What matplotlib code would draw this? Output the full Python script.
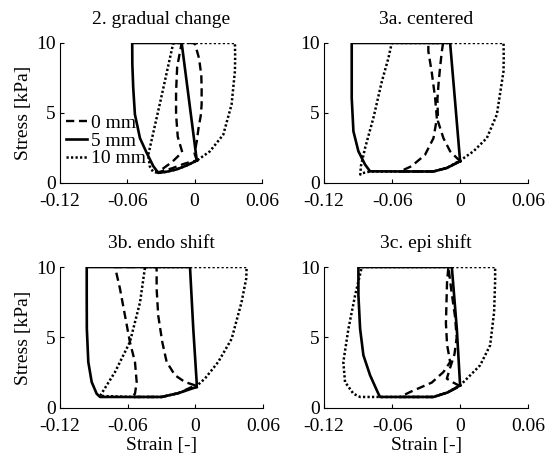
import matplotlib
matplotlib.use("Agg")
import matplotlib.pyplot as plt

plt.rcParams['font.family'] = ['Liberation Serif', 'DejaVu Serif']
plt.rcParams['font.size'] = 14

titles = ["2. gradual change", "3a. centered", "3b. endo shift", "3c. epi shift"]
labels = ["0 mm", "5 mm", "10 mm"]
xticks = [-0.12, -0.06, 0, 0.06]
xticklabels = ["-0.12", "-0.06", "0", "0.06"]
yticks = [0, 5, 10]

# 2. gradual change
grad_0_x = [0.002, 0.0, 0.002, 0.0035, 0.0055, 0.0063, 0.0063, 0.006, 0.004, 0.0005, -0.001, -0.0115,
            -0.0155, -0.0165, -0.0165, -0.015, -0.011, -0.02, -0.033, -0.02, -0.01, -0.004, 0.002]
grad_0_y = [1.6, 2.1, 3.0, 3.9, 4.8, 5.6, 6.8, 7.7, 8.9, 9.9, 10, 10,
            8.3, 6.5, 4.9, 3.3, 2.2, 1.5, 0.75, 1.05, 1.35, 1.5, 1.6]
grad_5_x = [0.002, -0.0115, -0.0556, -0.0555, -0.0547, -0.0532, -0.0487, -0.0427, -0.0368, -0.0324,
            -0.025, -0.016, -0.007, 0.002]
grad_5_y = [1.6, 10, 10, 8.5, 6.8, 4.9, 3.2, 2.15, 1.2, 0.72, 0.8, 0.97, 1.25, 1.6]
grad_10_x = [-0.019, 0.036, 0.0362, 0.036, 0.033, 0.0256, 0.0137, 0.0033, 0.002, -0.007, -0.016, -0.025,
             -0.0324, -0.037, -0.040, -0.0413, -0.030, -0.019]
grad_10_y = [10, 10, 9, 8, 5.6, 3.45, 2.26, 1.67, 1.6, 1.25, 0.97, 0.8,
             0.72, 0.8, 1.2, 2.0, 6.0, 10]

# 3a. centered
cent_0_x = [0.0, -0.0088, -0.0147, -0.0195, -0.020, -0.019, -0.0176, -0.0161, -0.015, -0.028, -0.028,
            -0.025, -0.022, -0.0205, -0.0235, -0.031, -0.043, -0.053, -0.0235, -0.0117, 0.0]
cent_0_y = [1.55, 2.26, 3.2, 4.4, 6.0, 7.1, 8.3, 9.4, 10, 10, 9.4,
            7.9, 6.05, 4.6, 3.2, 2.0, 1.19, 0.82, 0.82, 1.07, 1.55]
cent_5_x = [0.0, -0.0044, -0.0088, -0.0956, -0.0956, -0.0956, -0.0941, -0.0897, -0.0838, -0.0794,
            -0.05, -0.0235, -0.0117, 0.0]
cent_5_y = [1.55, 5.8, 10, 10, 8, 6.07, 3.69, 2.26, 1.31, 0.83, 0.82, 0.82, 1.07, 1.55]
cent_10_x = [-0.0603, 0.0383, 0.0385, 0.0383, 0.0324, 0.0236, 0.0118, 0.0, -0.0117, -0.0235, -0.05,
             -0.0794, -0.086, -0.088, -0.0875, -0.0838, -0.0765, -0.069, -0.0632, -0.0603]
cent_10_y = [10, 10, 9, 7.98, 4.88, 3.21, 2.26, 1.6, 1.07, 0.82, 0.82,
             0.82, 0.7, 0.6, 1.2, 2.5, 4.64, 7.26, 8.93, 10]

# 3b. endo shift
endo_0_x = [0.0, -0.0092, -0.018, -0.0254, -0.0293, -0.0329, -0.0343, -0.0343, -0.0712, -0.0668,
            -0.0624, -0.058, -0.0535, -0.052, -0.0535, -0.0564, -0.0298, -0.015, 0.0]
endo_0_y = [1.6, 1.84, 2.32, 3.26, 4.68, 6.57, 8.46, 10, 10, 8.46,
            6.57, 4.68, 3.26, 1.84, 1.01, 0.78, 0.78, 1.05, 1.6]
endo_5_x = [0.0012, 0.0012, -0.0018, -0.0047, -0.0963, -0.0963, -0.0962, -0.0949, -0.0919, -0.0875,
            -0.0845, -0.055, -0.0298, -0.015, 0.0012]
endo_5_y = [1.49, 1.84, 5.62, 10, 10, 8, 5.62, 3.26, 1.84, 1.01, 0.78, 0.78, 0.78, 1.05, 1.49]
endo_10_x = [-0.0446, 0.0455, 0.0452, 0.041, 0.0322, 0.0203, 0.0085, 0.0012, -0.015, -0.0298, -0.055,
             -0.0845, -0.0712, -0.058, -0.049, -0.0446]
endo_10_y = [10, 10, 9.2, 7.5, 4.9, 3.26, 2.08, 1.56, 1.05, 0.78, 0.78,
             0.85, 2.55, 4.68, 7.5, 10]

# 3c. epi shift
epi_0_x = [0.0, -0.006, -0.0117, -0.009, -0.005, -0.003, -0.0045, -0.0075, -0.0103, -0.0115, -0.012,
           -0.0125, -0.0115, -0.0088, -0.0147, -0.025, -0.0441, -0.053, -0.0235, -0.011, 0.0]
epi_0_y = [1.55, 1.8, 2.08, 2.8, 3.8, 5.0, 6.5, 8.2, 10, 9.0, 7.5,
           6.0, 4.5, 3.26, 2.55, 1.8, 1.13, 0.78, 0.78, 1.1, 1.55]
epi_5_x = [0.0, -0.0029, -0.0073, -0.0897, -0.0897, -0.0882, -0.0853, -0.0794, -0.0721, -0.0706,
           -0.05, -0.0235, -0.011, 0.0]
epi_5_y = [1.6, 5.62, 10, 10, 8.0, 5.62, 3.74, 2.32, 1.01, 0.78, 0.78, 0.78, 1.1, 1.6]
epi_10_x = [-0.0867, 0.0309, 0.0309, 0.0300, 0.0265, 0.0177, 0.006, 0.0, -0.011, -0.0235, -0.05,
            -0.0706, -0.0882, -0.0941, -0.1015, -0.103, -0.0985, -0.0926, -0.0867]
epi_10_y = [10, 10, 9, 6.8, 4.45, 3.03, 2.08, 1.6, 1.1, 0.78, 0.78,
            0.78, 0.78, 1.01, 1.84, 3.26, 5.62, 8.0, 10]

panels = [
    [(grad_0_x, grad_0_y), (grad_5_x, grad_5_y), (grad_10_x, grad_10_y)],
    [(cent_0_x, cent_0_y), (cent_5_x, cent_5_y), (cent_10_x, cent_10_y)],
    [(endo_0_x, endo_0_y), (endo_5_x, endo_5_y), (endo_10_x, endo_10_y)],
    [(epi_0_x, epi_0_y), (epi_5_x, epi_5_y), (epi_10_x, epi_10_y)],
]
styles = [dict(ls=(0, (3.5, 2)), lw=1.7), dict(ls="-", lw=1.9), dict(ls=(0, (0.9, 0.9)), lw=1.8)]

fig = plt.figure(figsize=(5.53, 4.62), dpi=100)
boxes = [[0.1085, 0.604, 0.365, 0.303], [0.586, 0.604, 0.369, 0.303],
         [0.1085, 0.117, 0.367, 0.305], [0.586, 0.117, 0.369, 0.305]]

for i in range(4):
    ax = fig.add_axes(boxes[i])
    for (x, y), st, lab in zip(panels[i], styles, labels):
        ax.plot(x, y, color="k", label=lab, solid_joinstyle="round", **st)
    ax.set_xlim(-0.12, 0.06)
    ax.set_ylim(0, 10)
    ax.set_xticks(xticks)
    ax.set_xticklabels(xticklabels)
    ax.set_yticks(yticks)
    ax.spines['top'].set_visible(False)
    ax.spines['right'].set_visible(False)
    ax.tick_params(direction="in", length=3)
    ax.tick_params(axis="x", pad=7)
    ax.tick_params(axis="y", pad=3)
    ax.set_title(titles[i], fontsize=14, pad=14)
    if i % 2 == 0:
        ax.set_ylabel("Stress [kPa]", labelpad=3)
    if i >= 2:
        ax.set_xlabel("Strain [-]", labelpad=2)
    if i == 0:
        ax.legend(loc="center left", bbox_to_anchor=(-0.02, 0.30), frameon=False,
                  handlelength=1.1, handletextpad=0.2, labelspacing=0.0, borderpad=0)

fig.savefig("out.png", dpi=100)
